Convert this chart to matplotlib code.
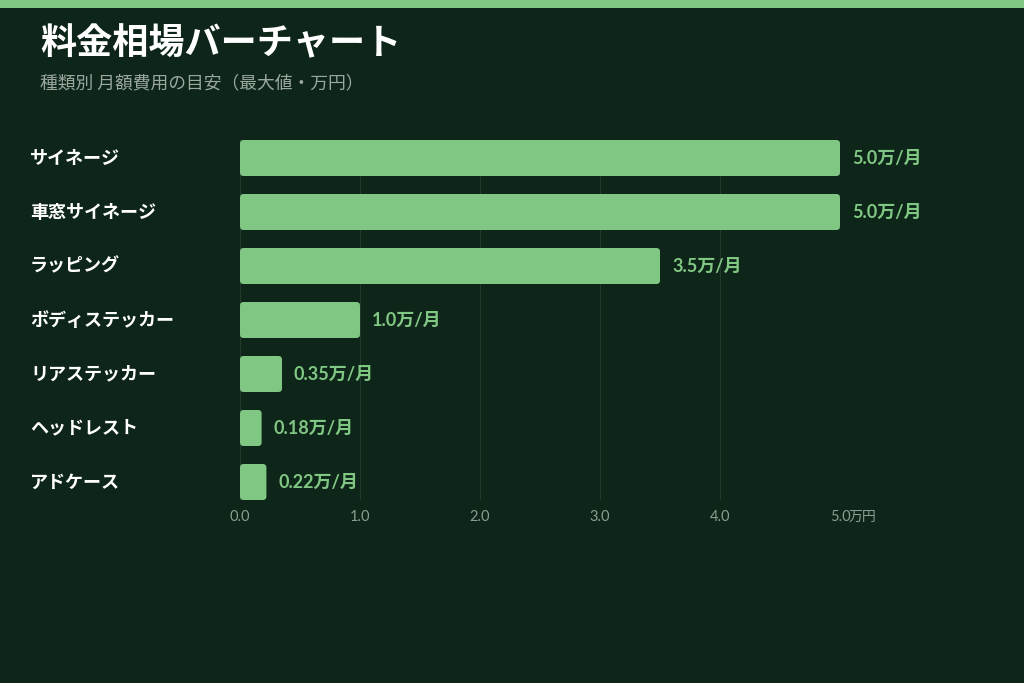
import matplotlib
matplotlib.use("Agg")
import matplotlib.pyplot as plt
from matplotlib.patches import FancyBboxPatch, Rectangle
from matplotlib.transforms import blended_transform_factory

plt.rcParams['font.family'] = ['Noto Sans CJK JP', 'DejaVu Sans']

categories = ["サイネージ", "車窓サイネージ", "ラッピング", "ボディステッカー", "リアステッカー", "ヘッドレスト", "アドケース"]
values = [5.0, 5.0, 3.5, 1.0, 0.35, 0.18, 0.22]
value_labels = ["5.0万/月", "5.0万/月", "3.5万/月", "1.0万/月", "0.35万/月", "0.18万/月", "0.22万/月"]
xticks = [0, 1, 2, 3, 4, 5]
xtick_labels = ["0.0", "1.0", "2.0", "3.0", "4.0", "5.0"]
title = "料金相場バーチャート"
subtitle = "種類別 月額費用の目安（最大値・万円）"
unit = "万円"

BG = "#0e2619"
BAR = "#81c784"
TICK = "#8c9c92"
W, H = 1024, 683

fig = plt.figure(figsize=(W / 100, H / 100), dpi=100, facecolor=BG)
fig.patches.append(Rectangle((0, 1 - 8 / H), 1, 8 / H, transform=fig.transFigure,
                             facecolor=BAR, edgecolor='none'))

ax = fig.add_axes([240 / W, 1 - 500 / H, 600 / W, 360 / H], facecolor=BG)
ax.set_xlim(0, 5)
ax.set_ylim(len(categories) - 1 + 1 / 3, -1 / 3)

bars = ax.barh(range(len(categories)), values, height=2 / 3, color=BAR)
for b in bars:
    x0, y0, w, h = b.get_x(), b.get_y(), b.get_width(), b.get_height()
    b.set_visible(False)
    fb = FancyBboxPatch((x0, y0), w, h,
                        boxstyle="round,pad=0,rounding_size=0.03",
                        mutation_aspect=2.24, facecolor=BAR, edgecolor='none', zorder=3)
    ax.add_patch(fb)

for i, (v, lab) in enumerate(zip(values, value_labels)):
    ax.annotate(lab, (v, i), xytext=(12, 0), textcoords='offset pixels',
                va='center', ha='left', color=BAR, fontsize=13, fontweight='bold',
                family=['Lato', 'Noto Sans CJK JP'], zorder=4)

ax.set_xticks(xticks)
ax.set_xticklabels(xtick_labels, family=['Lato', 'DejaVu Sans'])
ax.tick_params(axis='x', length=0, pad=7, colors=TICK, labelsize=10.5)
ax.set_yticks(range(len(categories)))
ax.set_yticklabels([])
ax.tick_params(axis='y', length=0)
for s in ax.spines.values():
    s.set_visible(False)
ax.grid(axis='x', color='#213a2c', linewidth=0.8, zorder=0)
ax.set_axisbelow(True)

lab_tr = blended_transform_factory(fig.transFigure, ax.transData)
for i, c in enumerate(categories):
    ax.text(30 / W, i, c, transform=lab_tr,
            va='center', ha='left', color='white', fontsize=13, fontweight='bold')

fig.text(849 / W, 1 - 517 / H, unit, ha='left', va='center', color=TICK, fontsize=10)

fig.text(40 / W, 1 - 44 / H, title, ha='left', va='center', color='white', fontsize=26, fontweight='bold')
fig.text(40 / W, 1 - 83 / H, subtitle, ha='left', va='center', color='#9aa8a0', fontsize=12.8)

fig.savefig("out.png", dpi=100, facecolor=BG)
